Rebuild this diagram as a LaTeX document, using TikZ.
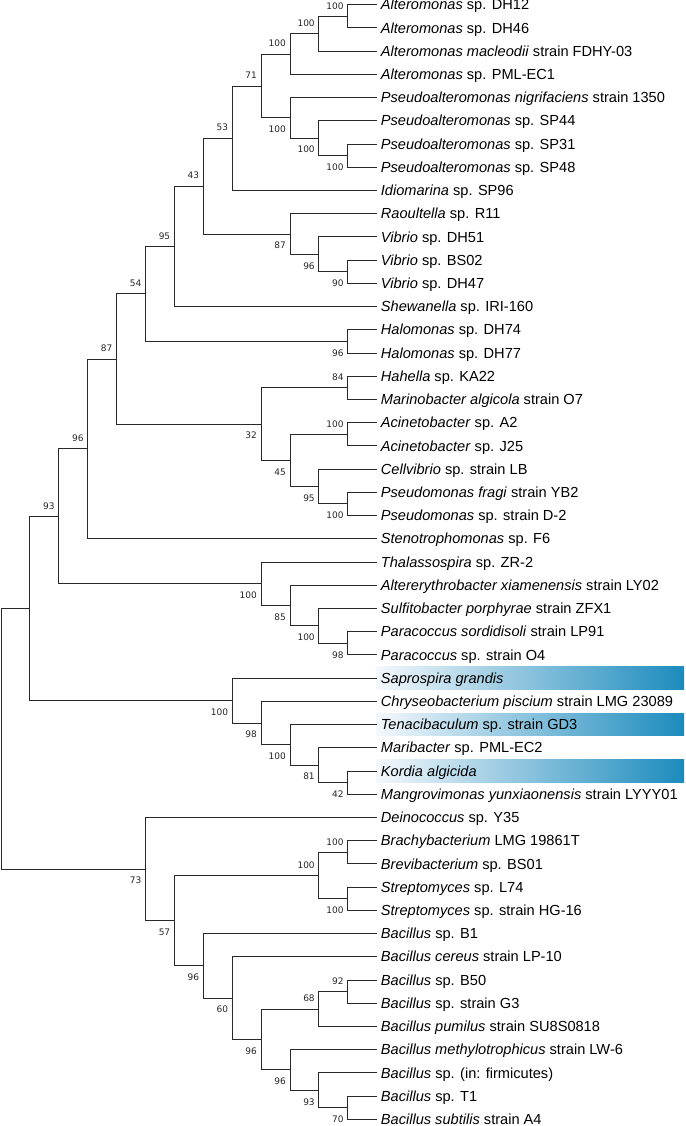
\documentclass[tikz,border=0pt]{standalone}
\usepackage{fontspec}
\setmainfont{Liberation Sans}
\newfontfamily\bsfamily{DejaVu Sans}
\definecolor{hlR}{RGB}{28,139,189}
\definecolor{hlL}{RGB}{244,248,252}
\definecolor{brc}{RGB}{40,40,40}
\begin{document}
\begin{tikzpicture}[x=1pt,y=-1pt,
  br/.style={draw=brc, line width=0.9pt},
  leaf/.style={anchor=base west, inner sep=0pt, xshift=4pt, yshift=-5.2pt, font=\fontsize{14.6}{16}\selectfont},
  bsu/.style={anchor=east, inner sep=0pt, xshift=-4pt, yshift=10.5pt, font=\bsfamily\fontsize{9}{10}\selectfont, text=black!85},
  bsl/.style={anchor=east, inner sep=0pt, xshift=-4pt, yshift=-11.5pt, font=\bsfamily\fontsize{9}{10}\selectfont, text=black!85},
  hl/.style={left color=hlL, right color=hlR, draw=none}]
\useasboundingbox (0,0) rectangle (685,1126);
% tips
\foreach \i in {1,...,49} {\coordinate (t\i) at (376.7,{4.7+23.22*(\i-1)});}
% highlight bars
\path[hl] (376.7,666.98) rectangle (684,689.18);
\path[hl] (376.7,713.42) rectangle (684,735.62);
\path[hl] (376.7,759.86) rectangle (684,782.06);
% leaf labels
\node[leaf] (l1) at (t1) {\textit{Alteromonas} sp. DH12};
\node[leaf] (l2) at (t2) {\textit{Alteromonas} sp. DH46};
\node[leaf] (l3) at (t3) {\textit{Alteromonas macleodii} strain FDHY-03};
\node[leaf] (l4) at (t4) {\textit{Alteromonas} sp. PML-EC1};
\node[leaf] (l5) at (t5) {\textit{Pseudoalteromonas nigrifaciens} strain 1350};
\node[leaf] (l6) at (t6) {\textit{Pseudoalteromonas} sp. SP44};
\node[leaf] (l7) at (t7) {\textit{Pseudoalteromonas} sp. SP31};
\node[leaf] (l8) at (t8) {\textit{Pseudoalteromonas} sp. SP48};
\node[leaf] (l9) at (t9) {\textit{Idiomarina} sp. SP96};
\node[leaf] (l10) at (t10) {\textit{Raoultella} sp. R11};
\node[leaf] (l11) at (t11) {\textit{Vibrio} sp. DH51};
\node[leaf] (l12) at (t12) {\textit{Vibrio} sp. BS02};
\node[leaf] (l13) at (t13) {\textit{Vibrio} sp. DH47};
\node[leaf] (l14) at (t14) {\textit{Shewanella} sp. IRI-160};
\node[leaf] (l15) at (t15) {\textit{Halomonas} sp. DH74};
\node[leaf] (l16) at (t16) {\textit{Halomonas} sp. DH77};
\node[leaf] (l17) at (t17) {\textit{Hahella} sp. KA22};
\node[leaf] (l18) at (t18) {\textit{Marinobacter algicola} strain O7};
\node[leaf] (l19) at (t19) {\textit{Acinetobacter} sp. A2};
\node[leaf] (l20) at (t20) {\textit{Acinetobacter} sp. J25};
\node[leaf] (l21) at (t21) {\textit{Cellvibrio} sp. strain LB};
\node[leaf] (l22) at (t22) {\textit{Pseudomonas fragi} strain YB2};
\node[leaf] (l23) at (t23) {\textit{Pseudomonas} sp. strain D-2};
\node[leaf] (l24) at (t24) {\textit{Stenotrophomonas} sp. F6};
\node[leaf] (l25) at (t25) {\textit{Thalassospira} sp. ZR-2};
\node[leaf] (l26) at (t26) {\textit{Altererythrobacter xiamenensis} strain LY02};
\node[leaf] (l27) at (t27) {\textit{Sulfitobacter porphyrae} strain ZFX1};
\node[leaf] (l28) at (t28) {\textit{Paracoccus sordidisoli} strain LP91};
\node[leaf] (l29) at (t29) {\textit{Paracoccus} sp. strain O4};
\node[leaf] (l30) at (t30) {\textit{Saprospira grandis}};
\node[leaf] (l31) at (t31) {\textit{Chryseobacterium piscium} strain LMG 23089};
\node[leaf] (l32) at (t32) {\textit{Tenacibaculum} sp. strain GD3};
\node[leaf] (l33) at (t33) {\textit{Maribacter} sp. PML-EC2};
\node[leaf] (l34) at (t34) {\textit{Kordia algicida}};
\node[leaf] (l35) at (t35) {\textit{Mangrovimonas yunxiaonensis} strain LYYY01};
\node[leaf] (l36) at (t36) {\textit{Deinococcus} sp. Y35};
\node[leaf] (l37) at (t37) {\textit{Brachybacterium} LMG 19861T};
\node[leaf] (l38) at (t38) {\textit{Brevibacterium} sp. BS01};
\node[leaf] (l39) at (t39) {\textit{Streptomyces} sp. L74};
\node[leaf] (l40) at (t40) {\textit{Streptomyces} sp. strain HG-16};
\node[leaf] (l41) at (t41) {\textit{Bacillus} sp. B1};
\node[leaf] (l42) at (t42) {\textit{Bacillus cereus} strain LP-10};
\node[leaf] (l43) at (t43) {\textit{Bacillus} sp. B50};
\node[leaf] (l44) at (t44) {\textit{Bacillus} sp. strain G3};
\node[leaf] (l45) at (t45) {\textit{Bacillus pumilus} strain SU8S0818};
\node[leaf] (l46) at (t46) {\textit{Bacillus methylotrophicus} strain LW-6};
\node[leaf] (l47) at (t47) {\textit{Bacillus} sp. (in: firmicutes)};
\node[leaf] (l48) at (t48) {\textit{Bacillus} sp. T1};
\node[leaf] (l49) at (t49) {\textit{Bacillus subtilis} strain A4};
% internal nodes
\coordinate (root) at (1,738.73);
\coordinate (n1) at (29.9,608.44);
\coordinate (n93) at (58.8,516.31);
\coordinate (n96a) at (87.7,448.87);
\coordinate (n87a) at (116.6,358.99);
\coordinate (n54) at (145.5,293.86);
\coordinate (n95) at (174.4,246.34);
\coordinate (n43) at (203.3,186.11);
\coordinate (n53) at (232.2,138.22);
\coordinate (n71) at (261.1,85.97);
\coordinate (n100c) at (290,54.04);
\coordinate (n100b) at (318.9,33.73);
\coordinate (n100a) at (347.8,16.31);
\coordinate (n100d) at (290,117.90);
\coordinate (n100e) at (318.9,138.22);
\coordinate (n100f) at (347.8,155.63);
\coordinate (n87b) at (290,234.00);
\coordinate (n96v) at (318.9,254.32);
\coordinate (n90) at (347.8,271.73);
\coordinate (n96h) at (347.8,341.39);
\coordinate (n32) at (261.1,424.11);
\coordinate (n84) at (347.8,387.83);
\coordinate (n45) at (290,460.39);
\coordinate (n100g) at (347.8,434.27);
\coordinate (n95p) at (318.9,486.52);
\coordinate (n100h) at (347.8,503.93);
\coordinate (nt100) at (261.1,583.75);
\coordinate (n85) at (290,605.52);
\coordinate (n100p) at (318.9,625.84);
\coordinate (n98) at (347.8,643.25);
\coordinate (ns100) at (232.2,700.58);
\coordinate (n98s) at (261.1,723.07);
\coordinate (n100s) at (290,744.84);
\coordinate (n81) at (318.9,765.16);
\coordinate (n42) at (347.8,782.57);
\coordinate (n73) at (145.5,869.01);
\coordinate (n57) at (174.4,920.62);
\coordinate (n100x) at (318.9,875.45);
\coordinate (n100y) at (347.8,852.23);
\coordinate (n100z) at (347.8,898.67);
\coordinate (n96b) at (203.3,965.79);
\coordinate (n60) at (232.2,998.08);
\coordinate (n96c) at (261.1,1039.44);
\coordinate (n68) at (318.9,1008.97);
\coordinate (n92) at (347.8,991.55);
\coordinate (n96d) at (290,1069.92);
\coordinate (n93b) at (318.9,1090.24);
\coordinate (n70) at (347.8,1107.65);
% branches
\draw[br] (root) |- (n1);   \draw[br] (root) |- (n73);
\draw[br] (n1) |- (n93);    \draw[br] (n1) |- (ns100);
\draw[br] (n93) |- (n96a);  \draw[br] (n93) |- (nt100);
\draw[br] (n96a) |- (n87a); \draw[br] (n96a) |- (t24);
\draw[br] (n87a) |- (n54);  \draw[br] (n87a) |- (n32);
\draw[br] (n54) |- (n95);   \draw[br] (n54) |- (n96h);
\draw[br] (n95) |- (n43);   \draw[br] (n95) |- (t14);
\draw[br] (n43) |- (n53);   \draw[br] (n43) |- (n87b);
\draw[br] (n53) |- (n71);   \draw[br] (n53) |- (t9);
\draw[br] (n71) |- (n100c); \draw[br] (n71) |- (n100d);
\draw[br] (n100c) |- (n100b); \draw[br] (n100c) |- (t4);
\draw[br] (n100b) |- (n100a); \draw[br] (n100b) |- (t3);
\draw[br] (n100a) |- (t1);  \draw[br] (n100a) |- (t2);
\draw[br] (n100d) |- (t5);  \draw[br] (n100d) |- (n100e);
\draw[br] (n100e) |- (t6);  \draw[br] (n100e) |- (n100f);
\draw[br] (n100f) |- (t7);  \draw[br] (n100f) |- (t8);
\draw[br] (n87b) |- (t10);  \draw[br] (n87b) |- (n96v);
\draw[br] (n96v) |- (t11);  \draw[br] (n96v) |- (n90);
\draw[br] (n90) |- (t12);   \draw[br] (n90) |- (t13);
\draw[br] (n96h) |- (t15);  \draw[br] (n96h) |- (t16);
\draw[br] (n32) |- (n84);   \draw[br] (n32) |- (n45);
\draw[br] (n84) |- (t17);   \draw[br] (n84) |- (t18);
\draw[br] (n45) |- (n100g); \draw[br] (n45) |- (n95p);
\draw[br] (n100g) |- (t19); \draw[br] (n100g) |- (t20);
\draw[br] (n95p) |- (t21);  \draw[br] (n95p) |- (n100h);
\draw[br] (n100h) |- (t22); \draw[br] (n100h) |- (t23);
\draw[br] (nt100) |- (t25); \draw[br] (nt100) |- (n85);
\draw[br] (n85) |- (t26);   \draw[br] (n85) |- (n100p);
\draw[br] (n100p) |- (t27); \draw[br] (n100p) |- (n98);
\draw[br] (n98) |- (t28);   \draw[br] (n98) |- (t29);
\draw[br] (ns100) |- (t30); \draw[br] (ns100) |- (n98s);
\draw[br] (n98s) |- (t31);  \draw[br] (n98s) |- (n100s);
\draw[br] (n100s) |- (t32); \draw[br] (n100s) |- (n81);
\draw[br] (n81) |- (t33);   \draw[br] (n81) |- (n42);
\draw[br] (n42) |- (t34);   \draw[br] (n42) |- (t35);
\draw[br] (n73) |- (t36);   \draw[br] (n73) |- (n57);
\draw[br] (n57) |- (n100x); \draw[br] (n57) |- (n96b);
\draw[br] (n100x) |- (n100y); \draw[br] (n100x) |- (n100z);
\draw[br] (n100y) |- (t37); \draw[br] (n100y) |- (t38);
\draw[br] (n100z) |- (t39); \draw[br] (n100z) |- (t40);
\draw[br] (n96b) |- (t41);  \draw[br] (n96b) |- (n60);
\draw[br] (n60) |- (t42);   \draw[br] (n60) |- (n96c);
\draw[br] (n96c) |- (n68);  \draw[br] (n96c) |- (n96d);
\draw[br] (n68) |- (n92);   \draw[br] (n68) |- (t45);
\draw[br] (n92) |- (t43);   \draw[br] (n92) |- (t44);
\draw[br] (n96d) |- (t46);  \draw[br] (n96d) |- (n93b);
\draw[br] (n93b) |- (t47);  \draw[br] (n93b) |- (n70);
\draw[br] (n70) |- (t48);   \draw[br] (n70) |- (t49);
% bootstrap labels
\node[bsu] (b93) at (n93) {93};
\node[bsu] (b96a) at (n96a) {96};
\node[bsu] (b87a) at (n87a) {87};
\node[bsu] (b54) at (n54) {54};
\node[bsu] (b95) at (n95) {95};
\node[bsu] (b43) at (n43) {43};
\node[bsu] (b53) at (n53) {53};
\node[bsu] (b71) at (n71) {71};
\node[bsu] (b100c) at (n100c) {100};
\node[bsu] (b100b) at (n100b) {100};
\node[bsu] (b100a) at (n100a) {100};
\node[bsl] (b100d) at (n100d) {100};
\node[bsl] (b100e) at (n100e) {100};
\node[bsl] (b100f) at (n100f) {100};
\node[bsl] (b87b) at (n87b) {87};
\node[bsl] (b96v) at (n96v) {96};
\node[bsl] (b90) at (n90) {90};
\node[bsl] (b96h) at (n96h) {96};
\node[bsl] (b32) at (n32) {32};
\node[bsu] (b84) at (n84) {84};
\node[bsl] (b45) at (n45) {45};
\node[bsu] (b100g) at (n100g) {100};
\node[bsl] (b95p) at (n95p) {95};
\node[bsl] (b100h) at (n100h) {100};
\node[bsl] (bt100) at (nt100) {100};
\node[bsl] (b85) at (n85) {85};
\node[bsl] (b100p) at (n100p) {100};
\node[bsl] (b98) at (n98) {98};
\node[bsl] (bs100) at (ns100) {100};
\node[bsl] (b98s) at (n98s) {98};
\node[bsl] (b100s) at (n100s) {100};
\node[bsl] (b81) at (n81) {81};
\node[bsl] (b42) at (n42) {42};
\node[bsl] (b73) at (n73) {73};
\node[bsl] (b57) at (n57) {57};
\node[bsu] (b100x) at (n100x) {100};
\node[bsu] (b100y) at (n100y) {100};
\node[bsl] (b100z) at (n100z) {100};
\node[bsl] (b96b) at (n96b) {96};
\node[bsl] (b60) at (n60) {60};
\node[bsl] (b96c) at (n96c) {96};
\node[bsu] (b68) at (n68) {68};
\node[bsu] (b92) at (n92) {92};
\node[bsl] (b96d) at (n96d) {96};
\node[bsl] (b93b) at (n93b) {93};
\node[bsl] (b70) at (n70) {70};
\end{tikzpicture}
\end{document}
